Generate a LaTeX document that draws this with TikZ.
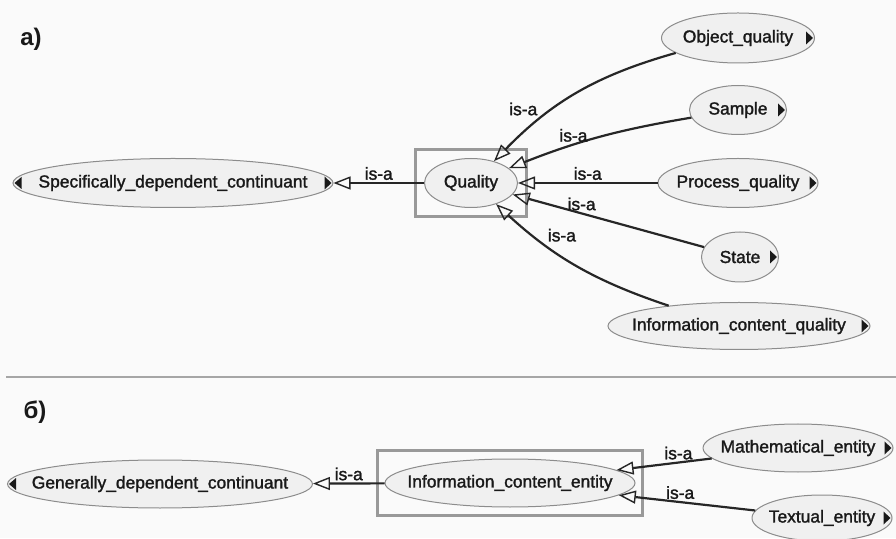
\documentclass[tikz,border=0pt]{standalone}
\usepackage{fontspec}
\setmainfont{Liberation Sans}
\newfontfamily\classfont[FakeBold=1.6]{Liberation Sans}
\usetikzlibrary{positioning, fit, shapes.geometric, arrows.meta}

\begin{document}
\begin{tikzpicture}[
        x=1pt, y=1pt,
        % default text for every node
        every node/.style={font=\classfont\fontsize{17.4}{20}\selectfont, text=black!90},
        % ontology classes: light grey ellipses of fixed size
        concept/.style={ellipse, draw=black!45, fill=black!6, line width=1pt, inner xsep=-40pt, inner ysep=0pt, minimum height=49pt},
        % small black markers at the ends of a class
        more right/.style={path picture={\fill[black!90] ([xshift=-1.5pt]path picture bounding box.east) -- ++(-7pt,6.5pt) -- ++(0pt,-13pt) -- cycle;}},
        more left/.style={path picture={\fill[black!90] ([xshift=1.5pt]path picture bounding box.west) -- ++(7pt,6pt) -- ++(0pt,-12pt) -- cycle;}},
        more both/.style={path picture={
            \fill[black!90] ([xshift=-1.5pt]path picture bounding box.east) -- ++(-7pt,6.5pt) -- ++(0pt,-13pt) -- cycle;
            \fill[black!90] ([xshift=1.5pt]path picture bounding box.west) -- ++(7pt,6pt) -- ++(0pt,-12pt) -- cycle;}},
        % frame round the selected class
        focus/.style={draw=black!40, line width=3.5pt},
        % is-a links with open triangle tips
        isa/.style={-{Triangle[open, length=17pt, width=13pt, line width=1.4pt]}, draw=black!85, line width=2.2pt},
        lbl/.style={inner sep=2pt},
        panel/.style={font=\fontsize{24}{28}\selectfont\bfseries}
    ]

    \path[use as bounding box, fill=black!2] (0,0) rectangle (896,538);

    % --- PANEL A: Quality ---
    \node[panel] (panela) at (31,499) {а)};

    \node[concept, minimum width=93pt] (quality) at (471,355) {Quality};
    \node[concept, more both, minimum width=320pt] (specdep) at (173,355) {Specifically\_dependent\_continuant};

    \node[concept, more right, minimum width=153pt, minimum height=50pt] (objq) at (738,500) {Object\_quality};
    \node[concept, more right, minimum width=97pt] (sample) at (738,428) {Sample};
    \node[concept, more right, minimum width=160pt] (procq) at (738,355) {Process\_quality};
    \node[concept, more right, minimum width=77pt, minimum height=50pt] (state) at (740,281) {State};
    \node[concept, more right, minimum width=262pt, minimum height=47pt] (icq) at (739,212) {Information\_content\_quality};

    \node[focus, fit=(quality), inner sep=8.5pt] (qualitybox) {};

    \draw[isa] (quality) -- node[lbl, above] {is-a} (specdep);
    \draw[isa] (objq) to[bend right=15] node[lbl, pos=0.72, above left] {is-a} (quality);
    \draw[isa] (sample) to[bend right=6] node[lbl, pos=0.65, above] {is-a} (quality);
    \draw[isa] (procq) -- node[lbl, above] {is-a} (quality);
    \draw[isa] (state) -- node[lbl, pos=0.64, above] {is-a} (quality);
    \draw[isa] (icq) to[bend left=12] node[lbl, pos=0.7, above right] {is-a} (quality);

    % separator
    \draw[black!35, line width=2.5pt] (6,161) -- (896,161);

    % --- PANEL B: Information content entity ---
    \node[panel] (panelb) at (35,126) {б)};

    \node[concept, minimum width=250pt, minimum height=48pt] (ice) at (510,55) {Information\_content\_entity};
    \node[concept, more left, minimum width=305pt, minimum height=48pt] (gendep) at (160,54) {Generally\_dependent\_continuant};
    \node[concept, more right, minimum width=190pt, minimum height=48pt] (mathe) at (798,90) {Mathematical\_entity};
    \node[concept, more right, minimum width=140pt, minimum height=46pt] (textual) at (822,20) {Textual\_entity};

    \node[focus, fit=(ice), inner xsep=7pt, inner ysep=8pt] (icebox) {};

    \draw[isa] (ice) -- node[lbl, above] {is-a} (gendep);
    \draw[isa] (mathe) -- node[lbl, pos=0.35, above] {is-a} (ice);
    \draw[isa] (textual) -- node[lbl, pos=0.55, above] {is-a} (ice);

\end{tikzpicture}
\end{document}
